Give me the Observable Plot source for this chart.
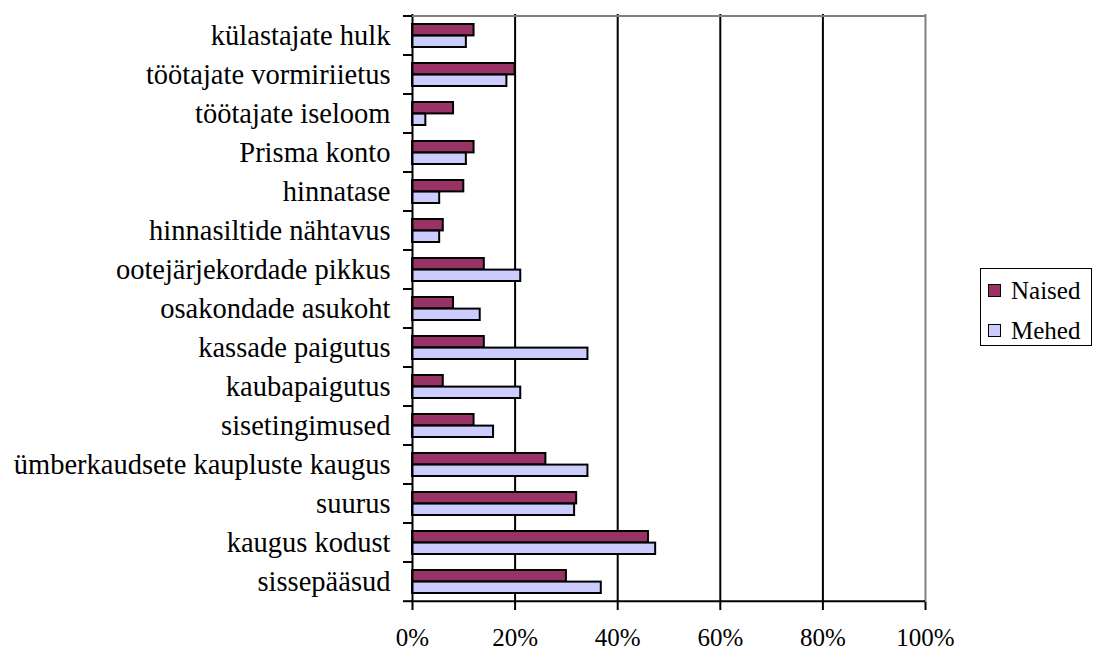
<!DOCTYPE html>
<html>
<head>
<meta charset="utf-8">
<script src="https://cdn.jsdelivr.net/npm/d3@7"></script>
<script src="https://cdn.jsdelivr.net/npm/@observablehq/plot@0.6"></script>
<style>
  html, body { margin: 0; padding: 0; background: #fff; }
  #wrap { position: relative; width: 1093px; height: 650px; font-family: "Liberation Serif", "Times New Roman", serif; }
  #wrap svg, #wrap svg text { font-family: "Liberation Serif", "Times New Roman", serif !important; }
  #legend {
    position: absolute; left: 980px; top: 268px; width: 112px; height: 78px;
    border: 1.5px solid #000; box-sizing: border-box; font-size: 25px; color: #000;
  }
  #legend .item { position: absolute; left: 7px; display: flex; align-items: center; gap: 10px; line-height: 1; }
  #legend .sw { width: 11px; height: 11px; border: 1.5px solid #000; }
</style>
</head>
<body>
<div id="wrap"></div>
<script>
// Survey factors, listed top to bottom
const categories = [
  "külastajate hulk",
  "töötajate vormiriietus",
  "töötajate iseloom",
  "Prisma konto",
  "hinnatase",
  "hinnasiltide nähtavus",
  "ootejärjekordade pikkus",
  "osakondade asukoht",
  "kassade paigutus",
  "kaubapaigutus",
  "sisetingimused",
  "ümberkaudsete kaupluste kaugus",
  "suurus",
  "kaugus kodust",
  "sissepääsud"
];
// Share of respondents naming each factor
const naised = [0.12, 0.20, 0.08, 0.12, 0.10, 0.06, 0.14, 0.08, 0.14, 0.06, 0.12, 0.26, 0.32, 0.46, 0.30];
const mehed  = [0.105, 0.184, 0.026, 0.105, 0.053, 0.053, 0.211, 0.132, 0.342, 0.211, 0.158, 0.342, 0.316, 0.474, 0.368];
const seriesNames = ["Naised", "Mehed"];
const seriesColors = ["#993366", "#CCCCFF"];
const xTicks = [0, 0.2, 0.4, 0.6, 0.8, 1];

const rowsN = categories.map((c, i) => ({category: c, value: naised[i]}));
const rowsM = categories.map((c, i) => ({category: c, value: mehed[i]}));

// Outer tick marks at band boundaries plus the top/bottom plot edges
function bandEdges() {
  return (index, scales, values, dims) => {
    const g = d3.create("svg:g");
    const y = scales.y, x = scales.x;
    const step = (dims.height - dims.marginTop - dims.marginBottom) / categories.length;
    const edges = categories.map((c) => y(c));
    edges.push(edges[edges.length - 1] + step);
    const x0 = x(0), x1 = x(1);
    g.append("g").selectAll("line").data(edges).join("line")
      .attr("x1", x0 - 9).attr("x2", x0)
      .attr("y1", d => d).attr("y2", d => d)
      .attr("stroke", "#000").attr("stroke-width", 2);
    g.append("line").attr("x1", x0).attr("x2", x1)
      .attr("y1", edges[0]).attr("y2", edges[0])
      .attr("stroke", "#808080").attr("stroke-width", 2);
    g.append("line").attr("x1", x0 - 1).attr("x2", x1)
      .attr("y1", edges[edges.length - 1]).attr("y2", edges[edges.length - 1])
      .attr("stroke", "#000").attr("stroke-width", 2);
    return g.node();
  };
}

const chart = Plot.plot({
  width: 1093,
  height: 650,
  marginLeft: 412,
  marginRight: 168,
  marginTop: 14,
  marginBottom: 48,
  style: {fontFamily: "'Liberation Serif', 'Times New Roman', serif", color: "#000", background: "#fff"},
  x: {domain: [0, 1]},
  y: {type: "band", domain: categories, padding: 0},
  marks: [
    Plot.ruleX(xTicks.slice(1, -1), {stroke: "#000", strokeWidth: 2}),
    Plot.ruleX([1], {stroke: "#808080", strokeWidth: 2}),
    Plot.barX(rowsN, {x: "value", y: "category", fill: seriesColors[0], stroke: "#000", strokeWidth: 2, insetTop: 8, insetBottom: 19.6}),
    Plot.barX(rowsM, {x: "value", y: "category", fill: seriesColors[1], stroke: "#000", strokeWidth: 2, insetTop: 19.6, insetBottom: 8}),
    Plot.ruleX([0], {stroke: "#000", strokeWidth: 2}),
    bandEdges(),
    Plot.axisX({ticks: xTicks, tickFormat: d3.format(".0%"), tickSize: 8, tickPadding: 18, fontSize: 25, strokeWidth: 2, label: null}),
    Plot.axisY({tickSize: 0, tickPadding: 22, fontSize: 28.5, label: null})
  ]
});

const wrap = document.getElementById("wrap");
wrap.appendChild(chart);

const legend = document.createElement("div");
legend.id = "legend";
seriesNames.forEach((name, i) => {
  const item = document.createElement("div");
  item.className = "item";
  item.style.top = (i === 0 ? 9 : 49) + "px";
  const sw = document.createElement("span");
  sw.className = "sw";
  sw.style.background = seriesColors[i];
  const lab = document.createElement("span");
  lab.textContent = name;
  item.appendChild(sw);
  item.appendChild(lab);
  legend.appendChild(item);
});
wrap.appendChild(legend);
</script>
</body>
</html>
